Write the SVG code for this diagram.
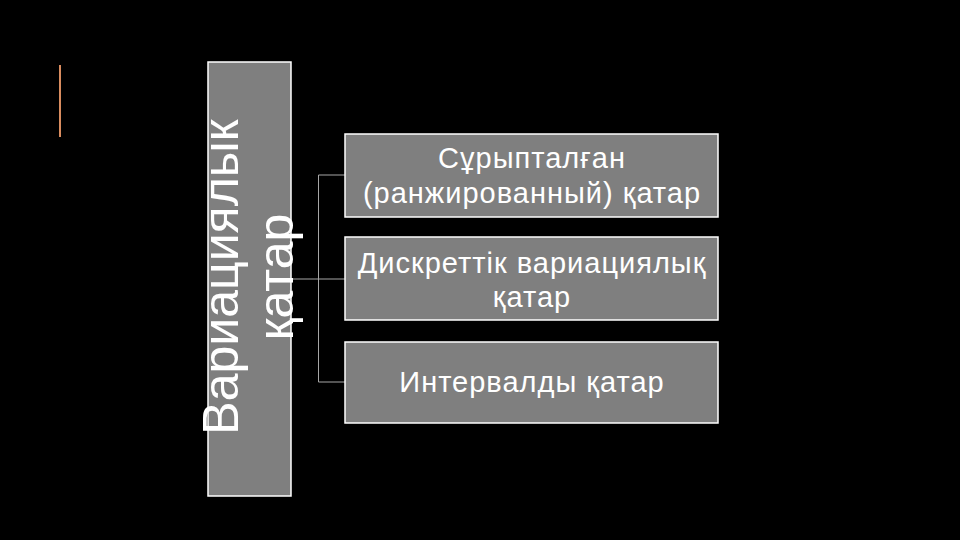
<svg xmlns="http://www.w3.org/2000/svg" width="960" height="540" viewBox="0 0 960 540">
<style>
.box{fill:#7f7f7f;stroke:#ffffff;stroke-width:1.5}
.t{font-family:"Liberation Sans",Arial,sans-serif;fill:#ffffff;text-anchor:middle}
.s{font-size:29px;letter-spacing:1px}
.c{stroke:#a6a6a6;stroke-width:1;fill:none}
</style>
<rect x="0" y="0" width="960" height="540" fill="#000000"/>
<line x1="60" y1="65" x2="60" y2="137" stroke="#d98c5f" stroke-width="2"/>
<g id="connectors">
<path class="c" d="M291 279H345M318.5 175V382M318.5 175H345M318.5 382H345"/>
</g>
<g id="root">
<rect class="box" x="208" y="62" width="83" height="434"/>
<g transform="translate(238,277) rotate(-90)">
<text class="t" x="0" y="0" font-size="50">Вариациялык</text>
<text class="t" x="0" y="55" font-size="50">қатар</text>
</g>
</g>
<g id="n1">
<rect class="box" x="345" y="134" width="373" height="83"/>
<text class="t s" x="532" y="168">Сұрыпталған</text>
<text class="t s" x="532" y="203">(ранжированный) қатар</text>
</g>
<g id="n2">
<rect class="box" x="345" y="237" width="373" height="83"/>
<text class="t s" x="532" y="273">Дискреттік вариациялық</text>
<text class="t s" x="532" y="307">қатар</text>
</g>
<g id="n3">
<rect class="box" x="345" y="342" width="373" height="81"/>
<text class="t s" x="532" y="392">Интервалды қатар</text>
</g>
</svg>
